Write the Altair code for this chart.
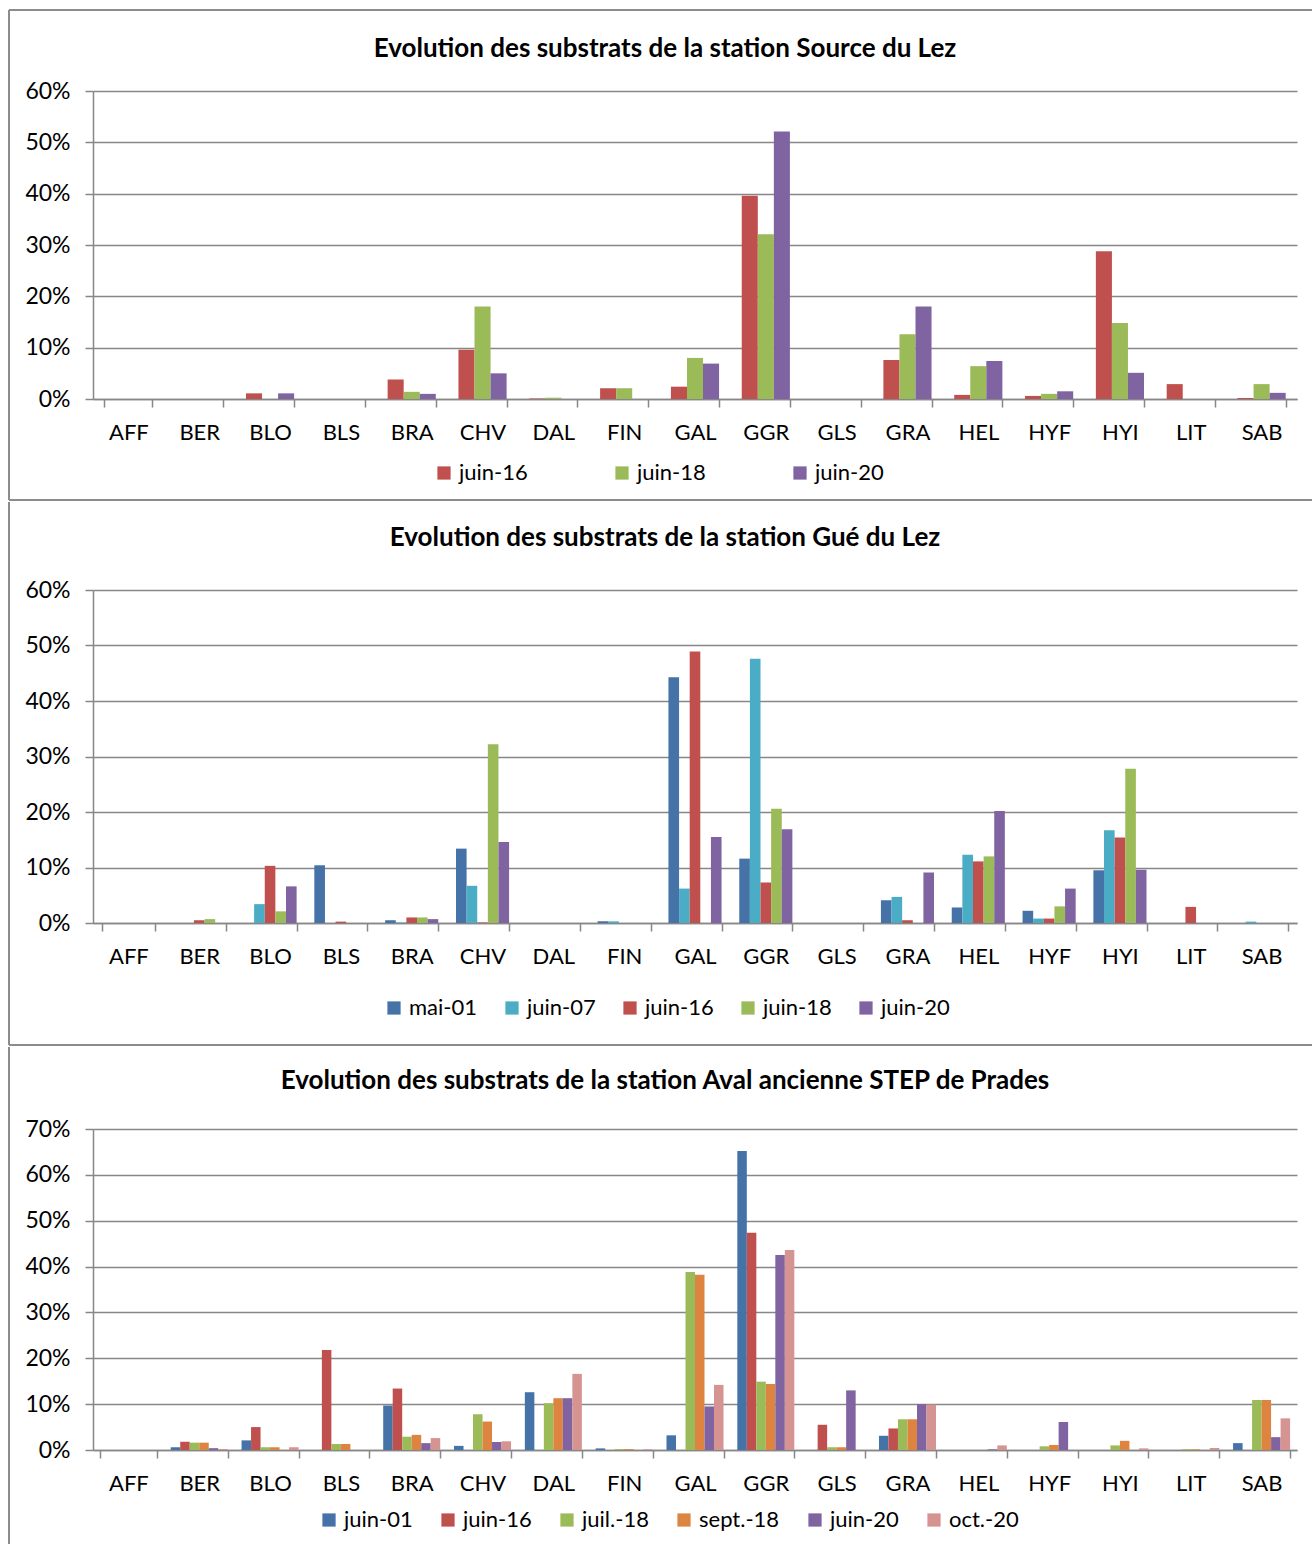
import altair as alt
import pandas as pd

categories = ["AFF", "BER", "BLO", "BLS", "BRA", "CHV", "DAL", "FIN", "GAL",
              "GGR", "GLS", "GRA", "HEL", "HYF", "HYI", "LIT", "SAB"]

# Station Source du Lez (% of surface per substrate)
source_series = ["juin-16", "juin-18", "juin-20"]
source_juin16 = [0, 0, 1.1, 0, 3.8, 9.6, 0.1, 2.1, 2.4, 39.6, 0, 7.6, 0.8, 0.6, 28.8, 2.9, 0.2]
source_juin18 = [0, 0, 0, 0, 1.4, 18.0, 0.25, 2.1, 8.0, 32.1, 0, 12.6, 6.4, 1.0, 14.8, 0, 2.9]
source_juin20 = [0, 0, 1.1, 0, 1.0, 5.0, 0, 0, 6.9, 52.1, 0, 18.0, 7.4, 1.5, 5.1, 0, 1.2]

# Station Gué du Lez
gue_series = ["mai-01", "juin-07", "juin-16", "juin-18", "juin-20"]
gue_mai01 = [0, 0, 0, 10.4, 0.5, 13.4, 0, 0.3, 44.3, 11.6, 0, 4.1, 2.8, 2.2, 9.5, 0, 0]
gue_juin07 = [0, 0, 3.4, 0, 0.1, 6.7, 0, 0.3, 6.2, 47.6, 0, 4.7, 12.3, 0.8, 16.7, 0, 0.25]
gue_juin16 = [0, 0.5, 10.3, 0.25, 1.0, 0.1, 0, 0, 48.9, 7.3, 0, 0.5, 11.1, 0.8, 15.4, 2.9, 0]
gue_juin18 = [0, 0.7, 2.1, 0, 1.0, 32.2, 0, 0, 0, 20.6, 0, 0, 12.0, 3.0, 27.8, 0, 0]
gue_juin20 = [0, 0, 6.6, 0, 0.7, 14.6, 0, 0, 15.5, 16.9, 0, 9.1, 20.2, 6.2, 9.6, 0, 0]

# Station Aval ancienne STEP de Prades
prades_series = ["juin-01", "juin-16", "juil.-18", "sept.-18", "juin-20", "oct.-20"]
prades_juin01 = [0, 0.6, 2.1, 0, 9.7, 0.9, 12.6, 0.35, 3.2, 65.2, 0, 3.1, 0, 0, 0, 0, 1.5]
prades_juin16 = [0, 1.8, 5.0, 21.8, 13.4, 0, 0, 0, 0, 47.4, 5.5, 4.7, 0, 0, 0, 0, 0]
prades_juil18 = [0, 1.6, 0.6, 1.3, 2.9, 7.8, 10.2, 0.2, 38.8, 14.9, 0.6, 6.7, 0, 0.8, 1.0, 0.15, 10.9]
prades_sept18 = [0, 1.6, 0.6, 1.3, 3.3, 6.2, 11.3, 0.2, 38.2, 14.4, 0.6, 6.7, 0, 1.1, 2.0, 0.15, 10.9]
prades_juin20 = [0, 0.4, 0, 0, 1.5, 1.75, 11.3, 0, 9.5, 42.5, 13.0, 10.0, 0.15, 6.1, 0, 0, 2.8]
prades_oct20 = [0, 0.2, 0.6, 0, 2.6, 1.9, 16.6, 0.15, 14.2, 43.6, 0, 9.9, 1.0, 0, 0.35, 0.44, 6.9]

BLUE, CYAN, RED, GREEN = "#4572A7", "#4BACC6", "#C0504D", "#9BBB59"
PURPLE, ORANGE, PINK = "#8064A2", "#DD8540", "#D59391"

FONT = "Lato"
GRID = "#878787"
FRAME = "#8C8C8C"
PLOT_W = 1204


def long_table(names, series):
    rows = []
    for name, vals in zip(names, series):
        for cat, v in zip(categories, vals):
            rows.append({"substrat": cat, "campagne": name, "pct": v})
    return pd.DataFrame(rows)


one_row = pd.DataFrame({"k": [0]})


def panel(title, names, series, colors, ymax, height, pad_inner,
          top, bottom, hlines, title_y, legend_x, legend_y, col_pad):
    df = long_table(names, series)
    bars = alt.Chart(df).mark_bar().encode(
        x=alt.X("substrat:N", sort=categories,
                scale=alt.Scale(domain=categories, paddingInner=pad_inner,
                                paddingOuter=pad_inner / 2),
                axis=alt.Axis(title=None, labelAngle=0, tickBand="extent", grid=False,
                              domainColor=GRID, domainWidth=1.5, tickColor=GRID,
                              tickWidth=1.5, tickSize=8, labelPadding=15)),
        xOffset=alt.XOffset("campagne:N", sort=names, scale=alt.Scale(domain=names)),
        y=alt.Y("pct:Q", scale=alt.Scale(domain=[0, ymax], nice=False),
                axis=alt.Axis(title=None, values=list(range(0, ymax + 1, 10)),
                              labelExpr="datum.value + '%'", grid=True,
                              gridColor=GRID, gridWidth=1.5, domainColor=GRID,
                              domainWidth=1.5, tickColor=GRID, tickWidth=1.5,
                              tickSize=8, labelPadding=15, labelFontSize=23)),
        color=alt.Color("campagne:N", sort=names,
                        scale=alt.Scale(domain=names, range=colors),
                        legend=alt.Legend(title=None, orient="none", legendX=legend_x,
                                          legendY=legend_y, direction="horizontal",
                                          columns=len(names), columnPadding=col_pad,
                                          symbolType="square", symbolSize=175,
                                          symbolStrokeWidth=0, labelOffset=4,
                                          padding=0)),
    )
    layers = []
    # left border of the frame; it also fixes the panel's vertical extent
    layers.append(alt.Chart(one_row).mark_rule(color=FRAME, strokeWidth=2).encode(
        x=alt.value(-84), y=alt.value(top), y2=alt.value(bottom)))
    for yv in hlines:
        layers.append(alt.Chart(one_row).mark_rule(color=FRAME, strokeWidth=2).encode(
            x=alt.value(-84), x2=alt.value(1219), y=alt.value(yv)))
    layers.append(bars)
    layers.append(alt.Chart(one_row).mark_text(
        font=FONT, fontSize=26, fontWeight="bold", align="center",
        baseline="middle", color="black").encode(
        x=alt.value(572), y=alt.value(title_y), text=alt.value(title)))
    return alt.layer(*layers).properties(width=PLOT_W, height=height)


p1 = panel("Evolution des substrats de la station Source du Lez",
           source_series, [source_juin16, source_juin18, source_juin20],
           [RED, GREEN, PURPLE], 60, 308, 0.32,
           top=-81, bottom=409, hlines=[-81, 409], title_y=-42,
           legend_x=340, legend_y=371, col_pad=83)

p2 = panel("Evolution des substrats de la station Gué du Lez",
           gue_series, [gue_mai01, gue_juin07, gue_juin16, gue_juin18, gue_juin20],
           [BLUE, CYAN, RED, GREEN, PURPLE], 60, 333, 0.25,
           top=-88, bottom=455, hlines=[455], title_y=-52,
           legend_x=290, legend_y=407, col_pad=23)

p3 = panel("Evolution des substrats de la station Aval ancienne STEP de Prades",
           prades_series, [prades_juin01, prades_juin16, prades_juil18,
                           prades_sept18, prades_juin20, prades_oct20],
           [BLUE, RED, GREEN, ORANGE, PURPLE, PINK], 70, 321, 0.195,
           top=-82, bottom=415, hlines=[], title_y=-48,
           legend_x=225, legend_y=380, col_pad=24)

chart = alt.vconcat(p1, p2, p3, spacing=0).resolve_scale(
    color="independent", x="independent", y="independent", xOffset="independent"
).properties(
    padding={"left": 8, "top": 9, "right": 0, "bottom": 0}
).configure_view(strokeWidth=0).configure_axis(
    labelFont=FONT, labelFontSize=22, labelColor="black"
).configure_legend(
    labelFont=FONT, labelFontSize=22, labelColor="black"
)

chart.save("out.html", embed_options={"renderer": "svg", "actions": False})
